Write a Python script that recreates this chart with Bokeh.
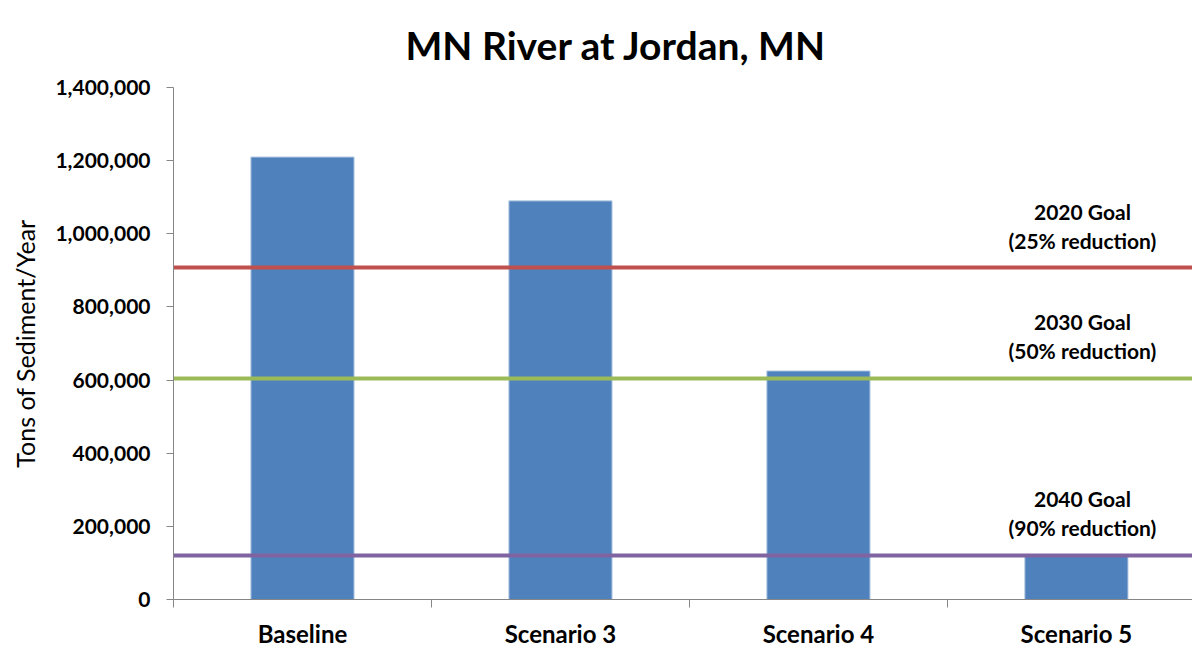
from bokeh.plotting import figure
from bokeh.models import Range1d, FixedTicker, NumeralTickFormatter, ColumnDataSource
from bokeh.core.properties import value
from bokeh.embed import file_html
from bokeh.resources import INLINE

# ---- data ----
title_text = "MN River at Jordan, MN"
categories = ["Baseline", "Scenario 3", "Scenario 4", "Scenario 5"]
sediment = [1210000, 1090000, 625000, 121000]
goal_values = [907500, 605000, 121000]
goal_labels = ["2020 Goal\n(25% reduction)", "2030 Goal\n(50% reduction)", "2040 Goal\n(90% reduction)"]
goal_colors = ["#C0504D", "#9BBB59", "#8064A2"]
y_ticks = [0, 200000, 400000, 600000, 800000, 1000000, 1200000, 1400000]

FONT = "Lato"

centers = [i + 0.5 for i in range(len(categories))]
edges = [i for i in range(len(categories) + 1)]

p = figure(width=1192, height=650, output_backend="svg", toolbar_location=None,
           x_range=Range1d(0, 3.95), y_range=Range1d(y_ticks[0], y_ticks[-1]),
           min_border_left=173, min_border_right=0, min_border_top=87, min_border_bottom=48)

p.title.text = title_text
p.title.align = "left"
p.title.offset = 232
p.title.vertical_align = "top"
p.title.standoff = 35
p.title.text_font = FONT
p.title.text_font_size = "39px"
p.title.text_font_style = "bold"
p.title.text_color = "#000000"

p.outline_line_color = None
p.xgrid.grid_line_color = None
p.ygrid.grid_line_color = None
p.background_fill_color = "white"
p.border_fill_color = "white"

# bars
src = ColumnDataSource(dict(x=centers, top=sediment))
p.vbar(x="x", top="top", width=0.4, bottom=0, source=src,
       fill_color="#4F81BD", line_color="#B9CDE5", line_width=1)

# goal lines
gsrc = ColumnDataSource(dict(y=goal_values, color=goal_colors, label=goal_labels,
                             x=[centers[-1]] * len(goal_values)))
p.hspan(y="y", line_color="color", line_width=4, source=gsrc)
p.text(x="x", y="y", text="label", source=gsrc, text_align="center", text_baseline="bottom",
       x_offset=6, y_offset=-15, text_font=value(FONT), text_font_style="bold",
       text_font_size="21px", text_color="#000000", text_line_height=1.15)

# x axis
xa = p.xaxis[0]
xa.ticker = FixedTicker(ticks=centers, minor_ticks=edges)
xa.major_label_overrides = {c: lab for c, lab in zip(centers, categories)}
xa.major_tick_out = 0
xa.major_tick_in = 0
xa.minor_tick_out = 8
xa.minor_tick_in = 0
xa.minor_tick_line_color = "#868686"
xa.axis_line_color = "#868686"
xa.major_label_standoff = 11
xa.major_label_text_font = FONT
xa.major_label_text_font_style = "bold"
xa.major_label_text_font_size = "24px"
xa.major_label_text_color = "#000000"

# y axis
ya = p.yaxis[0]
ya.ticker = FixedTicker(ticks=y_ticks)
ya.formatter = NumeralTickFormatter(format="0,0")
ya.major_tick_out = 7
ya.major_tick_in = 0
ya.minor_tick_line_color = None
ya.axis_line_color = "#868686"
ya.major_tick_line_color = "#868686"
ya.major_label_standoff = 16
ya.major_label_text_font = FONT
ya.major_label_text_font_style = "bold"
ya.major_label_text_font_size = "21px"
ya.major_label_text_color = "#000000"
ya.axis_label = "Tons of Sediment/Year"
ya.axis_label_text_font = FONT
ya.axis_label_text_font_style = "normal"
ya.axis_label_text_font_size = "25px"
ya.axis_label_text_color = "#000000"
ya.axis_label_standoff = 12

open("out.html", "w").write(file_html(p, INLINE))
